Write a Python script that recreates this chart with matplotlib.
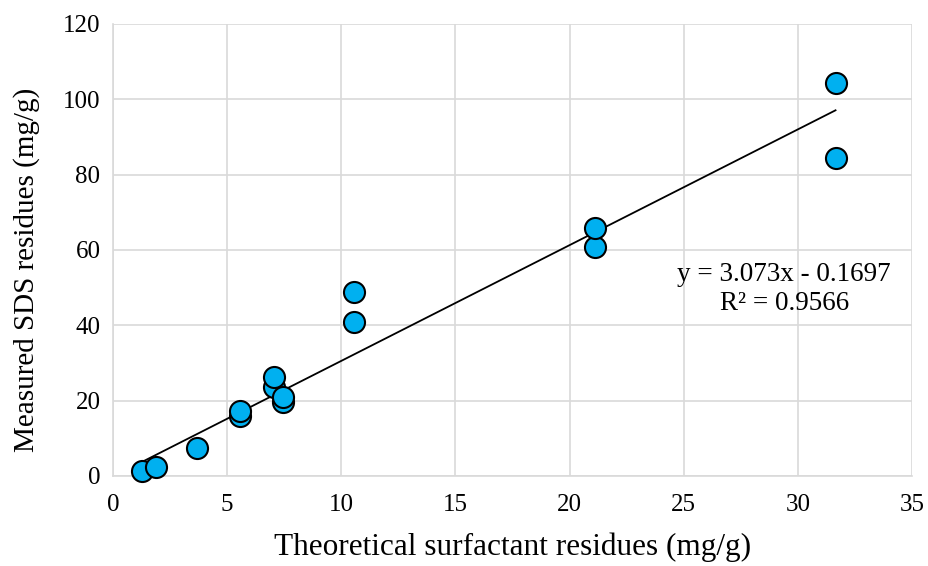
import matplotlib
matplotlib.use("Agg")
import matplotlib.pyplot as plt
import numpy as np

plt.rcParams['font.family'] = ['Liberation Serif', 'DejaVu Serif']

theoretical = [1.25, 1.9, 3.7, 5.55, 5.55, 7.05, 7.05, 7.45, 7.45, 10.55, 10.55, 21.1, 21.1, 31.65, 31.65]
measured = [1.3, 2.4, 7.5, 15.8, 17.3, 23.7, 26.2, 19.6, 20.9, 40.9, 48.9, 60.8, 65.8, 84.4, 104.4]
slope = 3.073
intercept = -0.1697
r_squared = 0.9566

fig = plt.figure(figsize=(9.29, 5.66), dpi=100)
ax = fig.add_axes([113/929, 90/566, 799/929, 452/566])

ax.set_xlim(0, 35)
ax.set_ylim(0, 120)
ax.set_xticks(np.arange(0, 36, 5))
ax.set_yticks(np.arange(0, 121, 20))
ax.grid(True, color='#D9D9D9', linewidth=1.2)
ax.set_axisbelow(True)
for side in ['top', 'right']:
    ax.spines[side].set_visible(False)
for side in ['left', 'bottom']:
    ax.spines[side].set_color('#D9D9D9')
    ax.spines[side].set_linewidth(1.2)
ax.tick_params(length=0, labelsize=18)
ax.tick_params(axis='x', pad=13)
ax.tick_params(axis='y', pad=9)

xfit = np.array([min(theoretical), max(theoretical)])
ax.plot(xfit, slope * xfit + intercept, color='black', linewidth=1.3, zorder=2)

ax.scatter(theoretical, measured, s=230, facecolor='#00B0F0', edgecolor='black',
           linewidth=1.5, zorder=3, clip_on=False)

ax.text(29.4, 49.6, f"y = {slope}x - {abs(intercept)}\nR² = {r_squared}", ha='center', va='center',
        fontsize=19.5, linespacing=1.2)

ax.set_xlabel('Theoretical surfactant residues (mg/g)', fontsize=22.5, va='center')
ax.set_ylabel('Measured SDS residues (mg/g)', fontsize=21, va='center')
ax.xaxis.set_label_coords(0.5, (476 - 547) / 452)
ax.yaxis.set_label_coords((27 - 113) / 799, (476 - 270) / 452)

fig.savefig('out.png', dpi=100)
